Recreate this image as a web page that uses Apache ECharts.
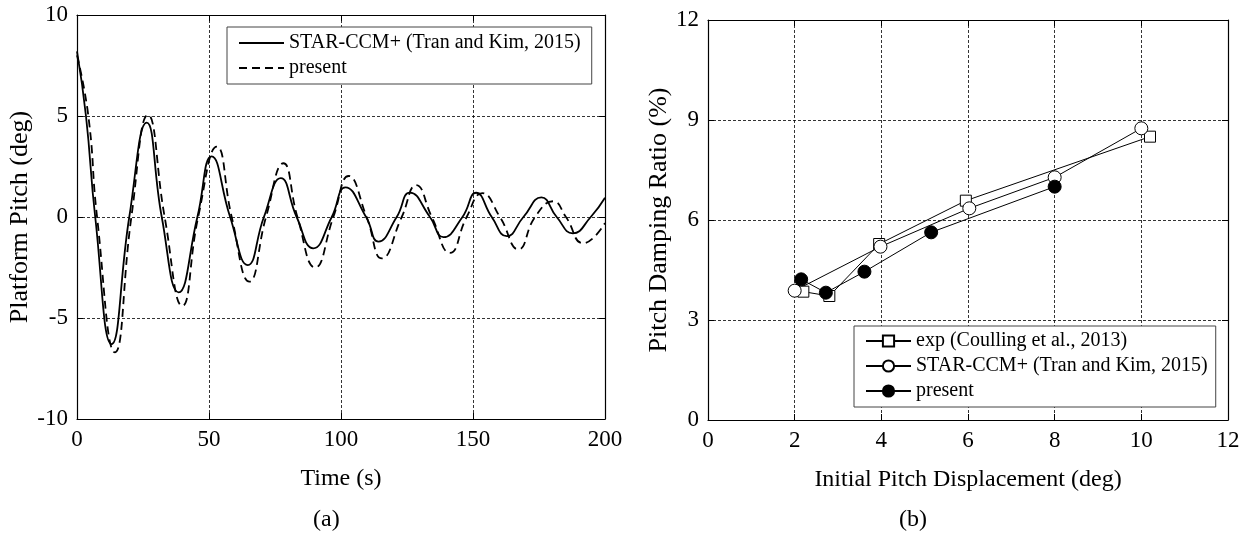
<!DOCTYPE html>
<html>
<head>
<meta charset="utf-8">
<script src="https://cdn.jsdelivr.net/npm/echarts@6/dist/echarts.min.js"></script>
<style>
html,body{margin:0;padding:0;background:#fff;}
#chart{width:1250px;height:538px;}
</style>
</head>
<body>
<div id="chart"></div>
<script>
// ---- (a) Platform pitch time history ----
const timeStar = [0, 3.4, 6.9, 13.1, 19.8, 26.4, 32.1, 38.5, 45.6, 51.0, 58.0, 64.7, 70.8, 77.2, 83.2, 89.5, 96.5, 101.7, 109.5, 114.2, 121.1, 126.1, 133.7, 138.8, 146.0, 151.2, 157.1, 162.8, 169.1, 175.9, 181.7, 187.8, 194.6, 200];
const pitchStar = [8.2, 5.0, 0, -6.3, 0, 4.67, 0, -3.73, 0, 3.0, 0, -2.38, 0, 1.92, 0, -1.55, 0, 1.47, 0, -1.22, 0, 1.21, 0, -1.0, 0, 1.2, 0, -0.95, 0, 0.97, 0, -0.81, 0, 0.95];
const timePresent = [0, 4.3, 7.6, 14.4, 20.6, 26.9, 33.2, 39.9, 45.9, 53.0, 58.6, 65.3, 71.6, 78.2, 83.5, 90.2, 97.1, 102.9, 109.7, 115.5, 123.0, 128.5, 134.4, 141.3, 147.6, 153.5, 160.2, 167.2, 173.5, 180.4, 185.2, 191.8, 200];
const pitchPresent = [8.0, 5.0, 0, -6.7, 0, 5.05, 0, -4.4, 0, 3.48, 0, -3.2, 0, 2.66, 0, -2.5, 0, 2.03, 0, -2.05, 0, 1.58, 0, -1.78, 0, 1.18, 0, -1.6, 0, 0.78, 0, -1.3, -0.3];

// ---- (b) Pitch damping ratio ----
const dispExp = [2.2, 2.8, 3.95, 5.95, 10.2];
const dampExp = [3.85, 3.72, 5.28, 6.58, 8.5];
const dispStar = [2.0, 3.98, 6.03, 8.0, 10.0];
const dampStar = [3.88, 5.2, 6.35, 7.28, 8.75];
const dispPresent = [2.15, 2.72, 3.61, 5.15, 8.0];
const dampPresent = [4.22, 3.82, 4.45, 5.63, 7.0];

const xTicksA = [0, 200, 50];   // min, max, interval
const yTicksA = [-10, 10, 5];
const xTicksB = [0, 12, 2];
const yTicksB = [0, 12, 3];

const nameStarA = 'STAR-CCM+ (Tran and Kim, 2015)';
const namePresentA = 'present';
const nameExpB = 'exp (Coulling et al., 2013)';
const nameStarB = 'STAR-CCM+ (Tran and Kim, 2015) [b]';
const namePresentB = 'present [b]';

const FONT = '"Liberation Serif", "Times New Roman", serif';
const zip = (a, b) => a.map((v, i) => [v, b[i]]);

const gridLine = {show: true, lineStyle: {color: '#000', type: [3, 2], width: 0.8}};
const axisLineS = {show: true, onZero: false, lineStyle: {color: '#000', width: 1.2}};
const tickS = {show: true, inside: true, length: 6, lineStyle: {color: '#000', width: 1}};
const labelS = {color: '#000', fontFamily: FONT, fontSize: 23};
const nameS = {color: '#000', fontFamily: FONT, fontSize: 24};

function mainX(grid, t, name, gap) {
  return {gridIndex: grid, type: 'value', min: t[0], max: t[1], interval: t[2], position: 'bottom',
    name: name, nameLocation: 'middle', nameGap: gap, nameTextStyle: nameS,
    axisLine: axisLineS, axisTick: tickS, axisLabel: Object.assign({margin: 9}, labelS), splitLine: gridLine};
}
function sideX(grid, t) {
  return {gridIndex: grid, type: 'value', min: t[0], max: t[1], interval: t[2], position: 'top',
    axisLine: axisLineS, axisTick: tickS, axisLabel: {show: false}, splitLine: {show: false}};
}
function mainY(grid, t, name, gap, fs) {
  return {gridIndex: grid, type: 'value', min: t[0], max: t[1], interval: t[2], position: 'left',
    name: name, nameLocation: 'middle', nameGap: gap, nameTextStyle: Object.assign({}, nameS, {fontSize: fs}),
    axisLine: axisLineS, axisTick: tickS, axisLabel: Object.assign({margin: 9}, labelS), splitLine: gridLine};
}
function sideY(grid, t) {
  return {gridIndex: grid, type: 'value', min: t[0], max: t[1], interval: t[2], position: 'right',
    axisLine: axisLineS, axisTick: tickS, axisLabel: {show: false}, splitLine: {show: false}};
}

const legendFmt = n => n.replace(' [b]', '');

const option = {
  animation: false,
  backgroundColor: '#fff',
  textStyle: {fontFamily: FONT, color: '#000'},
  grid: [
    {left: 77, top: 15, width: 528, height: 404},
    {left: 708, top: 20, width: 520, height: 400}
  ],
  xAxis: [
    mainX(0, xTicksA, 'Time (s)', 48),
    sideX(0, xTicksA),
    mainX(1, xTicksB, 'Initial Pitch Displacement (deg)', 48),
    sideX(1, xTicksB)
  ],
  yAxis: [
    mainY(0, yTicksA, 'Platform Pitch (deg)', 44, 26),
    sideY(0, yTicksA),
    mainY(1, yTicksB, 'Pitch Damping Ratio (%)', 34, 26),
    sideY(1, yTicksB)
  ],
  legend: [
    {
      left: 227, top: 27, orient: 'vertical',
      data: [{name: nameStarA, itemStyle: {opacity: 0}}, {name: namePresentA, itemStyle: {opacity: 0}}],
      itemWidth: 45, itemHeight: 14, itemGap: 5, padding: [6, 11, 6, 11],
      borderColor: '#444', borderWidth: 1, backgroundColor: '#fff',
      textStyle: {fontSize: 20, fontFamily: FONT, color: '#000'},
      selectedMode: false, formatter: legendFmt
    },
    {
      left: 854, top: 326, orient: 'vertical',
      data: [nameExpB, nameStarB, namePresentB],
      itemWidth: 45, itemHeight: 14, itemGap: 5, padding: [5, 8, 6, 11],
      borderColor: '#444', borderWidth: 1, backgroundColor: '#fff',
      textStyle: {fontSize: 20, fontFamily: FONT, color: '#000'},
      selectedMode: false, formatter: legendFmt
    }
  ],
  graphic: [
    {type: 'text', left: 313, top: 508, style: {text: '(a)', fontFamily: FONT, fontSize: 24, fill: '#000'}},
    {type: 'text', left: 899, top: 508, style: {text: '(b)', fontFamily: FONT, fontSize: 24, fill: '#000'}}
  ],
  series: [
    {name: nameStarA, type: 'line', xAxisIndex: 0, yAxisIndex: 0, data: zip(timeStar, pitchStar),
      smooth: 0.5, symbol: 'none', showSymbol: false, lineStyle: {color: '#000', width: 1.8}, itemStyle: {color: '#000'}},
    {name: namePresentA, type: 'line', xAxisIndex: 0, yAxisIndex: 0, data: zip(timePresent, pitchPresent),
      smooth: 0.5, symbol: 'none', showSymbol: false, lineStyle: {color: '#000', width: 1.8, type: [8, 5]}, itemStyle: {color: '#000'}},
    {name: nameExpB, type: 'line', xAxisIndex: 2, yAxisIndex: 2, data: zip(dispExp, dampExp),
      symbol: 'rect', symbolSize: 11, lineStyle: {color: '#000', width: 1},
      itemStyle: {color: '#fff', borderColor: '#000', borderWidth: 1}},
    {name: nameStarB, type: 'line', xAxisIndex: 2, yAxisIndex: 2, data: zip(dispStar, dampStar),
      symbol: 'circle', symbolSize: 13, lineStyle: {color: '#000', width: 1},
      itemStyle: {color: '#fff', borderColor: '#000', borderWidth: 1}},
    {name: namePresentB, type: 'line', xAxisIndex: 2, yAxisIndex: 2, data: zip(dispPresent, dampPresent),
      symbol: 'circle', symbolSize: 13, lineStyle: {color: '#000', width: 1},
      itemStyle: {color: '#000', borderColor: '#000', borderWidth: 1}}
  ]
};

const chart = echarts.init(document.getElementById('chart'), null, {renderer: 'canvas'});
chart.setOption(option);
</script>
</body>
</html>
